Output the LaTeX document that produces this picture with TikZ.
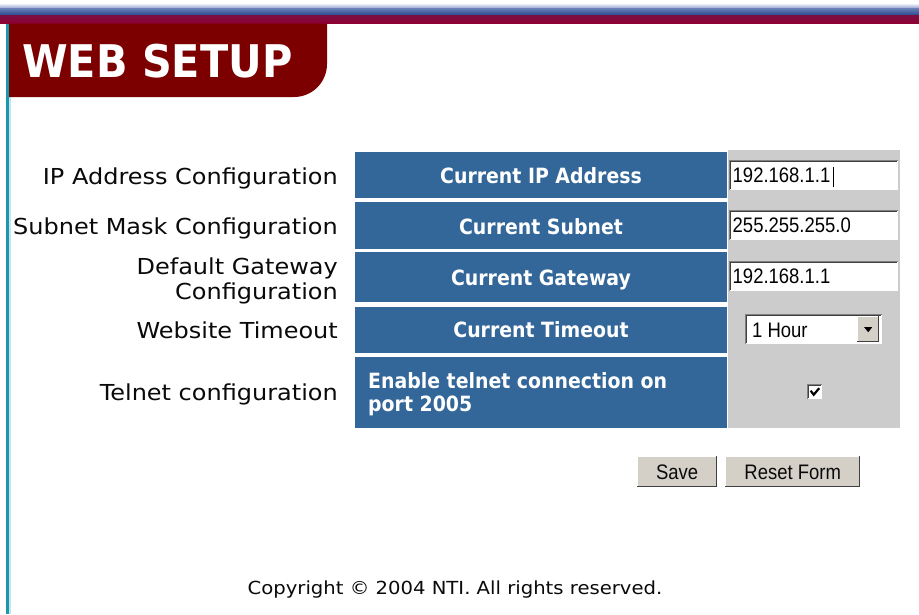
\documentclass[tikz,border=0pt]{standalone}
\usepackage{fontspec}
\setmainfont{DejaVu Sans}
\newfontfamily\labfont[FakeStretch=1.09]{DejaVu Sans}
\newfontfamily\cellfont[FakeStretch=0.9]{DejaVu Sans}
\newfontfamily\titlefont[FakeStretch=0.92]{DejaVu Sans}
\newfontfamily\copyfont[FakeStretch=1.09]{DejaVu Sans}
\newfontfamily\arialfont{Liberation Sans}
\newfontfamily\narrowfont[FakeStretch=0.88]{Liberation Sans}
\definecolor{barblue}{RGB}{44,75,142}
\definecolor{barlight}{RGB}{150,165,210}
\definecolor{barred}{RGB}{142,0,50}
\definecolor{hdrred}{RGB}{125,0,0}
\definecolor{tealline}{RGB}{24,153,174}
\definecolor{cellblue}{RGB}{51,102,153}
\definecolor{cellgray}{RGB}{204,204,204}
\definecolor{btngray}{RGB}{212,208,200}
\definecolor{dkedge}{RGB}{64,64,64}
\definecolor{mdedge}{RGB}{128,128,128}
\definecolor{labtxt}{RGB}{10,10,10}
\tikzset{
  lab/.style={anchor=base east, inner sep=0pt, text=labtxt, font=\labfont\fontsize{22}{26}\selectfont},
  celltxt/.style={anchor=base, inner sep=0pt, text=white, font=\cellfont\bfseries\fontsize{21}{25}\selectfont},
  celltxtl/.style={celltxt, anchor=base west},
  bluecell/.style={fill=cellblue, draw=none, inner sep=0pt, anchor=north west, minimum width=372pt},
  inbox/.style={fill=white, draw=none, inner sep=0pt, anchor=north west},
  intxt/.style={anchor=base west, inner sep=0pt, text=black, font=\narrowfont\fontsize{21}{24}\selectfont},
  btnbox/.style={fill=btngray, draw=none, inner sep=0pt, anchor=north west},
  btntxt/.style={anchor=base, inner sep=0pt, text=labtxt, font=\narrowfont\fontsize{21}{24}\selectfont},
}
\begin{document}
\begin{tikzpicture}[x=1pt,y=-1pt]
\useasboundingbox (0,0) rectangle (919,614);
\fill[white] (0,0) rectangle (919,614);
% top bar
\shade[top color=white, bottom color=barlight] (0,3) rectangle (919,8);
\shade[top color=barlight!60!barblue, bottom color=barblue] (0,8) rectangle (919,15);
\shade[top color=barred!80!barblue, bottom color=barred] (0,15) rectangle (919,23.5);
% left teal rule
\fill[tealline] (6,23.5) rectangle (9,614);
\fill[tealline!25] (9,23.5) rectangle (10.5,614);
% header tab
\fill[hdrred] (9,23.5) -- (327,23.5) -- (327,64) arc[start angle=0, end angle=90, radius=33] -- (9,97) -- cycle;
\node[anchor=base west, inner sep=0pt, text=white, font=\titlefont\bfseries\fontsize{45}{50}\selectfont] (title) at (22,77) {WEB SETUP};
% left labels
\node[lab] (l1) at (338,184) {IP Address Configuration};
\node[lab] (l2) at (338,234) {Subnet Mask Configuration};
\node[lab] (l3a) at (338,274) {Default Gateway};
\node[lab] (l3b) at (338,299) {Configuration};
\node[lab] (l4) at (338,338) {Website Timeout};
\node[lab] (l5) at (338,400) {Telnet configuration};
% blue cells
\node[bluecell, minimum height=46pt] (b1) at (355,152) {};
\node[bluecell, minimum height=47pt] (b2) at (355,202) {};
\node[bluecell, minimum height=50pt] (b3) at (355,252) {};
\node[bluecell, minimum height=46pt] (b4) at (355,307) {};
\node[bluecell, minimum height=71pt] (b5) at (355,357) {};
\node[celltxt] (t1) at (541,183.5) {Current IP Address};
\node[celltxt] (t2) at (541,234) {Current Subnet};
\node[celltxt] (t3) at (541,285.5) {Current Gateway};
\node[celltxt] (t4) at (541,337.5) {Current Timeout};
\node[celltxtl] (t5a) at (368,388) {Enable telnet connection on};
\node[celltxtl] (t5b) at (368,411) {port 2005};
% gray column
\node[fill=cellgray, inner sep=0pt, anchor=north west, minimum width=172pt, minimum height=278pt] (gcol) at (728,150) {};
% text inputs
\foreach \n/\y/\v in {1/160/192.168.1.1, 2/210/255.255.255.0, 3/261/192.168.1.1}{
  \node[inbox, minimum width=169pt, minimum height=30pt] (in\n) at (729,\y) {};
  \draw[mdedge, line width=1pt] ([xshift=0.5pt]in\n.south west) -- ([xshift=0.5pt,yshift=-0.5pt]in\n.north west) -- ([yshift=-0.5pt]in\n.north east);
  \draw[dkedge, line width=1pt] ([xshift=1.5pt,yshift=1pt]in\n.south west) -- ([xshift=1.5pt,yshift=-1.5pt]in\n.north west) -- ([xshift=-1pt,yshift=-1.5pt]in\n.north east);
  \node[intxt] (v\n) at ([xshift=3.5pt,yshift=7.5pt]in\n.south west) {\v};
}
\draw[black, line width=1pt] ([xshift=3pt,yshift=1pt]v1.north east) -- ([xshift=3pt,yshift=-4pt]v1.south east);
% dropdown
\node[inbox, minimum width=137pt, minimum height=30pt] (dd) at (745,314) {};
\draw[mdedge, line width=1pt] ([xshift=0.5pt]dd.south west) -- ([xshift=0.5pt,yshift=-0.5pt]dd.north west) -- ([yshift=-0.5pt]dd.north east);
\draw[dkedge, line width=1pt] ([xshift=1.5pt,yshift=1pt]dd.south west) -- ([xshift=1.5pt,yshift=-1.5pt]dd.north west) -- ([xshift=-1pt,yshift=-1.5pt]dd.north east);
\node[intxt] (ddv) at (752,337) {1 Hour};
\node[btnbox, minimum width=22pt, minimum height=26pt] (ddb) at (857,316) {};
\draw[white, line width=1pt] ([xshift=0.5pt]ddb.south west) -- ([xshift=0.5pt,yshift=-0.5pt]ddb.north west) -- ([yshift=-0.5pt]ddb.north east);
\draw[dkedge, line width=1pt] ([yshift=0.5pt]ddb.south west) -- ([xshift=-0.5pt,yshift=0.5pt]ddb.south east) -- ([xshift=-0.5pt]ddb.north east);
\fill[black] ([xshift=-4pt,yshift=2pt]ddb.center) -- ([xshift=4pt,yshift=2pt]ddb.center) -- ([yshift=-3pt]ddb.center) -- cycle;
% checkbox
\node[inbox, minimum width=15pt, minimum height=15pt] (cb) at (807,384) {};
\draw[mdedge, line width=1pt] ([xshift=0.5pt]cb.south west) -- ([xshift=0.5pt,yshift=-0.5pt]cb.north west) -- ([yshift=-0.5pt]cb.north east);
\draw[dkedge, line width=1pt] ([xshift=1.5pt,yshift=1pt]cb.south west) -- ([xshift=1.5pt,yshift=-1.5pt]cb.north west) -- ([xshift=-1pt,yshift=-1.5pt]cb.north east);
\draw[black, line width=2.2pt] ([xshift=-4pt,yshift=1pt]cb.center) -- ([xshift=-1pt,yshift=-3pt]cb.center) -- ([xshift=4.5pt,yshift=3.5pt]cb.center);
% buttons
\node[btnbox, minimum width=80pt, minimum height=31pt] (save) at (637,456) {};
\node[btnbox, minimum width=135pt, minimum height=31pt] (reset) at (725,456) {};
\foreach \b in {save, reset}{
  \draw[white, line width=1pt] ([xshift=0.5pt]\b.south west) -- ([xshift=0.5pt,yshift=-0.5pt]\b.north west) -- ([yshift=-0.5pt]\b.north east);
  \draw[dkedge, line width=1.5pt] ([yshift=0.75pt]\b.south west) -- ([xshift=-0.75pt,yshift=0.75pt]\b.south east) -- ([xshift=-0.75pt]\b.north east);
}
\node[btntxt] (savet) at ([yshift=8pt]save.south) {Save};
\node[btntxt] (resett) at ([yshift=8pt]reset.south) {Reset Form};
% copyright
\node[anchor=base, inner sep=0pt, text=labtxt, font=\copyfont\fontsize{18}{22}\selectfont] (copy) at (455,594) {Copyright © 2004 NTI. All rights reserved.};
\end{tikzpicture}
\end{document}
